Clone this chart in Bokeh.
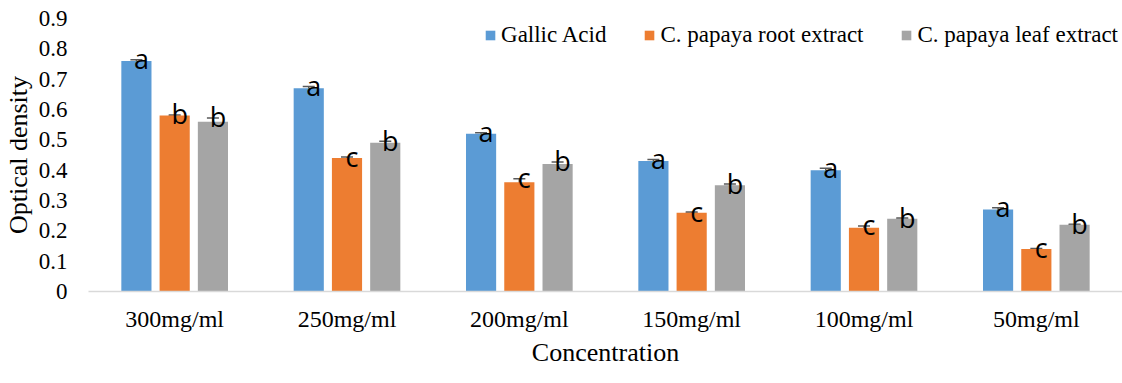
from bokeh.plotting import figure
from bokeh.models import (FactorRange, Range1d, ColumnDataSource, Whisker, TeeHead,
                          Legend, LegendItem, FixedTicker)
from bokeh.transform import dodge
from bokeh.core.properties import value
from bokeh.embed import file_html
from bokeh.resources import INLINE

categories = ["300mg/ml", "250mg/ml", "200mg/ml", "150mg/ml", "100mg/ml", "50mg/ml"]
series_names = ["Gallic Acid", "C. papaya root extract", "C. papaya leaf extract"]
gallic = [0.76, 0.67, 0.52, 0.43, 0.40, 0.27]
root = [0.58, 0.44, 0.36, 0.26, 0.21, 0.14]
leaf = [0.56, 0.49, 0.42, 0.35, 0.24, 0.22]
gallic_err = [0.004, 0.006, 0.003, 0.005, 0.006, 0.006]
root_err = [0.002, 0.003, 0.012, 0.002, 0.006, 0.002]
leaf_err = [0.012, 0.005, 0.007, 0.004, 0.002, 0.002]
gallic_letters = ["a", "a", "a", "a", "a", "a"]
root_letters = ["b", "c", "c", "c", "c", "c"]
leaf_letters = ["b", "b", "b", "b", "b", "b"]
y_ticks = [0, 0.1, 0.2, 0.3, 0.4, 0.5, 0.6, 0.7, 0.8, 0.9]
y_tick_labels = ["0", "0.1", "0.2", "0.3", "0.4", "0.5", "0.6", "0.7", "0.8", "0.9"]

colors = ["#5B9BD5", "#ED7D31", "#A5A5A5"]
offsets = [-0.222, 0.0, 0.222]
serif = "Liberation Serif"

p = figure(frame_width=1034, frame_height=273, x_range=FactorRange(factors=categories),
           y_range=Range1d(0, 0.9), output_backend="svg", toolbar_location=None,
           min_border_left=88, min_border_right=0, min_border_top=18, min_border_bottom=0)
p.outline_line_color = None
p.xgrid.grid_line_color = None
p.ygrid.grid_line_color = None
p.background_fill_color = "white"

series = [(gallic, gallic_err, gallic_letters), (root, root_err, root_letters),
          (leaf, leaf_err, leaf_letters)]
items = []
for (vals, errs, letters), name, col, off in zip(series, series_names, colors, offsets):
    src = ColumnDataSource(dict(
        cat=categories, val=vals,
        upper=[v + e for v, e in zip(vals, errs)],
        lower=[v - e for v, e in zip(vals, errs)],
        letter=letters))
    r = p.vbar(x=dodge("cat", off, range=p.x_range), top="val", width=0.175,
               source=src, fill_color=col, line_color=None)
    items.append(LegendItem(label=name, renderers=[r]))
    w = Whisker(source=src, base=dodge("cat", off, range=p.x_range), upper="upper", lower="lower",
                line_color="#595959", line_width=1.5,
                upper_head=TeeHead(size=12, line_color="#595959", line_width=1.5),
                lower_head=TeeHead(size=12, line_color="#595959", line_width=1.5))
    p.add_layout(w)
    p.text(x=dodge("cat", off, range=p.x_range), y="upper", text="letter", source=src,
           text_font=value("Open Sans"), text_font_size="27px", text_color="black",
           text_align="center", text_baseline="alphabetic", x_offset=5, y_offset=-1)

# axes
p.yaxis.ticker = FixedTicker(ticks=y_ticks)
p.yaxis.major_label_overrides = {t: l for t, l in zip(y_ticks, y_tick_labels)}
p.yaxis.axis_line_color = None
p.yaxis.major_tick_line_color = None
p.yaxis.minor_tick_line_color = None
p.yaxis.major_tick_out = 0
p.yaxis.major_tick_in = 0
p.yaxis.minor_tick_out = 0
p.yaxis.major_label_standoff = 21
p.yaxis.axis_label = "Optical density"
p.yaxis.axis_label_standoff = 3
p.yaxis.major_label_text_font_size = "23px"

p.xaxis.axis_line_color = "#D9D9D9"
p.xaxis.axis_line_width = 1.5
p.xaxis.major_tick_line_color = None
p.xaxis.minor_tick_line_color = None
p.xaxis.major_tick_out = 0
p.xaxis.major_tick_in = 0
p.xaxis.minor_tick_out = 0
p.xaxis.major_label_standoff = 14
p.xaxis.axis_label = "Concentration"
p.xaxis.axis_label_standoff = 3
p.xaxis.major_label_text_font_size = "24px"

for ax in (p.xaxis[0], p.yaxis[0]):
    ax.major_label_text_font = serif
    ax.major_label_text_color = "black"
    ax.axis_label_text_font = serif
    ax.axis_label_text_font_size = "26px"
    ax.axis_label_text_font_style = "normal"
    ax.axis_label_text_color = "black"

legend = Legend(items=items, orientation="horizontal", location="top_right",
                glyph_width=12, glyph_height=12, label_standoff=5, spacing=37,
                padding=0, margin=4, border_line_color=None, background_fill_alpha=0,
                label_text_font=serif, label_text_font_size="23px", label_text_color="black")
p.add_layout(legend, "center")

open("out.html", "w").write(file_html(p, INLINE))
